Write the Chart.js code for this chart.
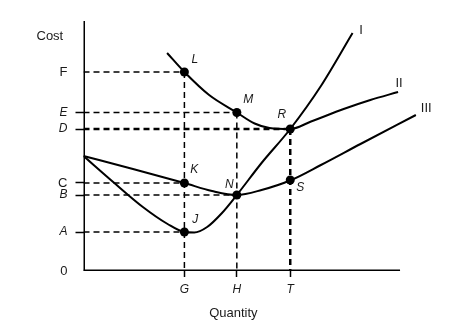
<!DOCTYPE html>
<html>
<head>
<meta charset="utf-8">
<script src="https://cdn.jsdelivr.net/npm/chart.js@4.4.1/dist/chart.umd.min.js"></script>
<style>
  body { margin: 0; background: #fff; }
  #wrap { width: 454px; height: 333px; }
</style>
</head>
<body>
<div id="wrap"><canvas id="costChart" width="454" height="333"></canvas></div>
<script>
// tick labels
var xTickNames = ['G', 'H', 'T'];
var xTickValues = [10.2, 15.5, 20.9];
var yTickNames = ['0', 'A', 'B', 'C', 'D', 'E', 'F'];
var yTickValues = [0, 3.9, 7.6, 8.8, 14.2, 15.85, 19.9];
var yUpright = ['0', 'C', 'F'];
var yNoTick = ['0', 'F'];

var xAxisEnd = 32;
var yAxisEnd = 25;

// curve I (marginal cost)
var curveIX = [0, 3, 6, 8.5, 10.2, 11.2, 12.5, 14, 15.5, 18, 20.9, 24, 27.2];
var curveIY = [11.5, 8.9, 6.4, 4.7, 3.9, 3.85, 4.4, 5.8, 7.6, 10.8, 14.2, 18.5, 23.8];
// curve II (average total cost)
var curveIIX = [8.45, 10.2, 12.7, 15.5, 17.3, 18.8, 20.9, 23, 26.3, 29, 31.8];
var curveIIY = [21.8, 19.9, 17.6, 15.85, 14.75, 14.3, 14.2, 14.95, 16.2, 17.1, 17.9];
// curve III (average variable cost)
var curveIIIX = [0, 5, 10.2, 13, 15.5, 18, 21, 24, 28, 33.6];
var curveIIIY = [11.5, 10.2, 8.8, 8.0, 7.6, 8.1, 9.1, 10.6, 12.7, 15.6];

var curveNames = ['I', 'II', 'III'];
var curveNameX = [28.05, 31.9, 34.65];
var curveNameY = [24.1, 18.8, 16.3];

// marked points and their letters
var pointNames = ['L', 'M', 'R', 'K', 'N', 'S', 'J'];
var pointX = [10.2, 15.5, 20.9, 10.2, 15.5, 20.9, 10.2];
var pointY = [19.9, 15.85, 14.2, 8.8, 7.6, 9.1, 3.9];
var pointLabelX = [11.25, 16.65, 20.05, 11.2, 14.75, 21.9, 11.3];
var pointLabelY = [21.1, 17.1, 15.65, 10.1, 8.65, 8.35, 5.15];

var FONT = 'Liberation Sans, Arial, sans-serif';

function toXY(xs, ys) {
	var out = [];
	for (var i = 0; i < xs.length; i++) {
		out.push({x: xs[i], y: ys[i]});
	}
	return out;
}
function yVal(name) { return yTickValues[yTickNames.indexOf(name)]; }
function xVal(name) { return xTickValues[xTickNames.indexOf(name)]; }
function yName(c) { return c && c.tick ? yTickNames[yTickValues.indexOf(c.tick.value)] : ''; }

function curve(xs, ys) {
	return {
		data: toXY(xs, ys),
		showLine: true,
		borderColor: '#000',
		borderWidth: 2,
		pointRadius: 0,
		cubicInterpolationMode: 'monotone',
		order: 1
	};
}
function dash(pts, w) {
	return {
		data: pts,
		showLine: true,
		borderColor: '#000',
		borderWidth: w,
		borderDash: [6, 4],
		pointRadius: 0,
		order: 3
	};
}

var datasets = [];
// guide lines from the axes to the marked points
datasets.push(dash([{x: 0, y: yVal('F')}, {x: xVal('G'), y: yVal('F')}], 1.5));
datasets.push(dash([{x: 0, y: yVal('E')}, {x: xVal('H'), y: yVal('E')}], 1.5));
datasets.push(dash([{x: 0, y: yVal('D')}, {x: xVal('T'), y: yVal('D')}], 2.5));
datasets.push(dash([{x: 0, y: yVal('C')}, {x: xVal('G'), y: yVal('C')}], 1.5));
datasets.push(dash([{x: 0, y: yVal('B')}, {x: xVal('H'), y: yVal('B')}], 1.5));
datasets.push(dash([{x: 0, y: yVal('A')}, {x: xVal('G'), y: yVal('A')}], 1.5));
datasets.push(dash([{x: xVal('G'), y: yVal('F')}, {x: xVal('G'), y: 0}], 1.5));
datasets.push(dash([{x: xVal('H'), y: yVal('E')}, {x: xVal('H'), y: 0}], 1.5));
datasets.push(dash([{x: xVal('T'), y: yVal('D')}, {x: xVal('T'), y: 0}], 2.5));

datasets.push(curve(curveIX, curveIY));
datasets.push(curve(curveIIX, curveIIY));
datasets.push(curve(curveIIIX, curveIIIY));

// axes
datasets.push({data: [{x: 0, y: 0}, {x: xAxisEnd, y: 0}], showLine: true, borderColor: '#000', borderWidth: 3, pointRadius: 0, order: 2});
datasets.push({data: [{x: 0, y: 0}, {x: 0, y: yAxisEnd}], showLine: true, borderColor: '#000', borderWidth: 3, pointRadius: 0, order: 2});

datasets.push({
	data: toXY(pointX, pointY),
	pointRadius: 4.5,
	pointBackgroundColor: '#000',
	pointBorderColor: '#000',
	pointBorderWidth: 0,
	order: 0
});

var textPlugin = {
	id: 'textLabels',
	afterDatasetsDraw: function(chart) {
		var c = chart.ctx, sx = chart.scales.x, sy = chart.scales.y;
		c.save();
		c.fillStyle = '#1a1a1a';
		c.textAlign = 'center';
		c.textBaseline = 'middle';
		c.font = 'italic 12px ' + FONT;
		for (var i = 0; i < pointNames.length; i++) {
			c.fillText(pointNames[i], sx.getPixelForValue(pointLabelX[i]), sy.getPixelForValue(pointLabelY[i]));
		}
		c.font = '13px ' + FONT;
		for (var j = 0; j < curveNames.length; j++) {
			c.fillText(curveNames[j], sx.getPixelForValue(curveNameX[j]), sy.getPixelForValue(curveNameY[j]));
		}
		c.fillText('Cost', sx.getPixelForValue(-3.4), sy.getPixelForValue(23.45));
		c.fillText('Quantity', sx.getPixelForValue(15.15), sy.getPixelForValue(-4.2));
		c.restore();
	}
};

var ctx = document.getElementById('costChart');
var chart = new Chart(ctx, {
	type: 'scatter',
	data: {datasets: datasets},
	plugins: [textPlugin],
	options: {
		responsive: false,
		animation: false,
		devicePixelRatio: 1,
		layout: {padding: {left: 0, right: 0, top: 21, bottom: 0}},
		plugins: {legend: {display: false}, tooltip: {enabled: false}},
		scales: {
			x: {
				type: 'linear',
				min: 0,
				max: 37,
				afterFit: function(s) { s.height = 62; },
				afterBuildTicks: function(s) { s.ticks = xTickValues.map(function(v) { return {value: v}; }); },
				ticks: {
					autoSkip: false,
					maxRotation: 0,
					padding: 5,
					color: '#1a1a1a',
					font: {family: FONT, size: 12, style: 'italic'},
					callback: function(v) { return xTickNames[xTickValues.indexOf(v)]; }
				},
				grid: {drawOnChartArea: false, tickLength: 6, tickWidth: 1.5, tickColor: '#000'},
				border: {display: false}
			},
			y: {
				type: 'linear',
				min: 0,
				max: 25,
				afterFit: function(s) { s.width = 83.5; },
				afterBuildTicks: function(s) { s.ticks = yTickValues.map(function(v) { return {value: v}; }); },
				ticks: {
					autoSkip: false,
					padding: 8,
					color: '#1a1a1a',
					font: function(c) {
						var up = yUpright.indexOf(yName(c)) >= 0;
						return {family: FONT, size: up ? 13 : 12, style: up ? 'normal' : 'italic'};
					},
					callback: function(v) { return yTickNames[yTickValues.indexOf(v)]; }
				},
				grid: {
					drawOnChartArea: false,
					tickLength: 8,
					tickWidth: 1.5,
					tickColor: function(c) {
						return yNoTick.indexOf(yName(c)) >= 0 ? 'rgba(0,0,0,0)' : '#000';
					}
				},
				border: {display: false}
			}
		}
	}
});
</script>
</body>
</html>
